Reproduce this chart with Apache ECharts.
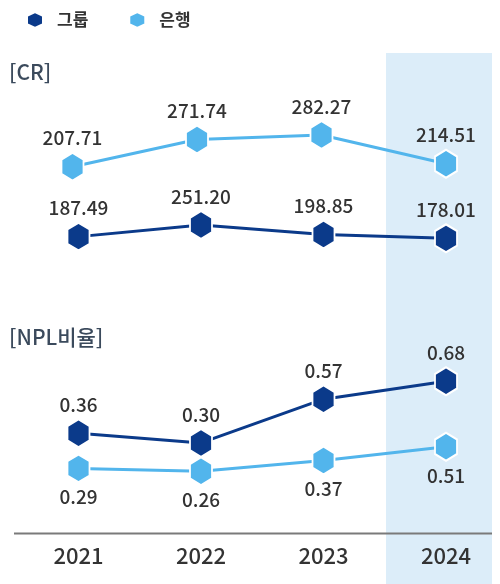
<!DOCTYPE html>
<html>
<head>
<meta charset="utf-8">
<script src="https://cdn.jsdelivr.net/npm/echarts@6/dist/echarts.min.js"></script>
<style>
html,body{margin:0;padding:0;background:#fff;}
#c{width:500px;height:584px;}
</style>
</head>
<body>
<div id="c"></div>
<script>
const years = ['2021', '2022', '2023', '2024'];
const crGroup = [187.49, 251.20, 198.85, 178.01];
const crBank = [207.71, 271.74, 282.27, 214.51];
const nplGroup = [0.36, 0.30, 0.57, 0.68];
const nplBank = [0.29, 0.26, 0.37, 0.51];
const seriesNames = ['그룹', '은행'];
const panelTitles = ['[CR]', '[NPL비율]'];

const NAVY = '#0b3a8a';
const SKY = '#52b5ec';
const FONT = '"Noto Sans CJK KR", "Noto Sans", sans-serif';
const HEX = 'path://M50,0 L100,24 L100,76 L50,100 L0,76 L0,24 Z';

const chart = echarts.init(document.getElementById('c'), null, {renderer: 'canvas'});

const grids = [
  {left: 72.5, right: 54, top: 127.5, height: 63.75},
  {left: 78.5, right: 54, top: 216.0, height: 27.5},
  {left: 78.5, right: 54, top: 329.4, height: 162.2},
  {left: 78.5, right: 54, top: 398.3, height: 98.7}
];

const xAxes = grids.map((g, i) => ({
  type: 'category', gridIndex: i, data: years, boundaryGap: false,
  axisLine: {show: false}, axisTick: {show: false},
  axisLabel: i === 3 ? {
    show: true, margin: 12, fontSize: 22, color: '#333', fontFamily: FONT, fontWeight: 500
  } : {show: false},
  offset: i === 3 ? 36 : 0,
  splitLine: {show: false}
}));

const yRanges = [[150, 300], [150, 300], [0, 1], [0, 1]];
const yAxes = yRanges.map((r, i) => ({
  type: 'value', gridIndex: i, min: r[0], max: r[1], show: false, splitLine: {show: false}
}));

function mkSeries(name, data, idx, color, pos) {
  return {
    name: name, type: 'line', xAxisIndex: idx, yAxisIndex: idx, data: data,
    symbol: HEX, symbolSize: [22, 28],
    lineStyle: {color: color, width: 3},
    itemStyle: {color: color, borderColor: '#fff', borderWidth: 2},
    label: {
      show: true, position: pos, distance: 4,
      formatter: p => p.value.toFixed(2),
      fontSize: 19, color: '#333', fontFamily: FONT, fontWeight: 500
    },
    emphasis: {disabled: true},
    animation: false, z: 3
  };
}

const option = {
  backgroundColor: '#fff',
  animation: false,
  legend: {
    data: seriesNames, left: 21, top: 6, icon: HEX, itemWidth: 16, itemHeight: 18, itemGap: 40,
    textStyle: {fontSize: 17, fontWeight: 'bold', color: '#333', fontFamily: FONT, padding: [0, 0, 0, 9]},
    selectedMode: false
  },
  grid: grids,
  xAxis: xAxes,
  yAxis: yAxes,
  graphic: [
    {type: 'rect', shape: {x: 386, y: 53, width: 106, height: 531}, style: {fill: '#dcedf9'}, z: -10, silent: true},
    {type: 'line', shape: {x1: 14, y1: 533.5, x2: 492, y2: 533.5}, style: {stroke: '#7a7a7a', lineWidth: 2}, z: 1, silent: true},
    {type: 'text', style: {x: 9, y: 72, text: panelTitles[0], fontSize: 21, fontFamily: FONT, fill: '#3b4a5c', textVerticalAlign: 'middle', fontWeight: 500}, z: 5},
    {type: 'text', style: {x: 9, y: 337, text: panelTitles[1], fontSize: 21, fontFamily: FONT, fill: '#3b4a5c', textVerticalAlign: 'middle', fontWeight: 500}, z: 5}
  ],
  series: [
    mkSeries(seriesNames[1], crBank, 0, SKY, 'top'),
    mkSeries(seriesNames[0], crGroup, 1, NAVY, 'top'),
    mkSeries(seriesNames[0], nplGroup, 2, NAVY, 'top'),
    mkSeries(seriesNames[1], nplBank, 3, SKY, 'bottom')
  ]
};
chart.setOption(option);
</script>
</body>
</html>
